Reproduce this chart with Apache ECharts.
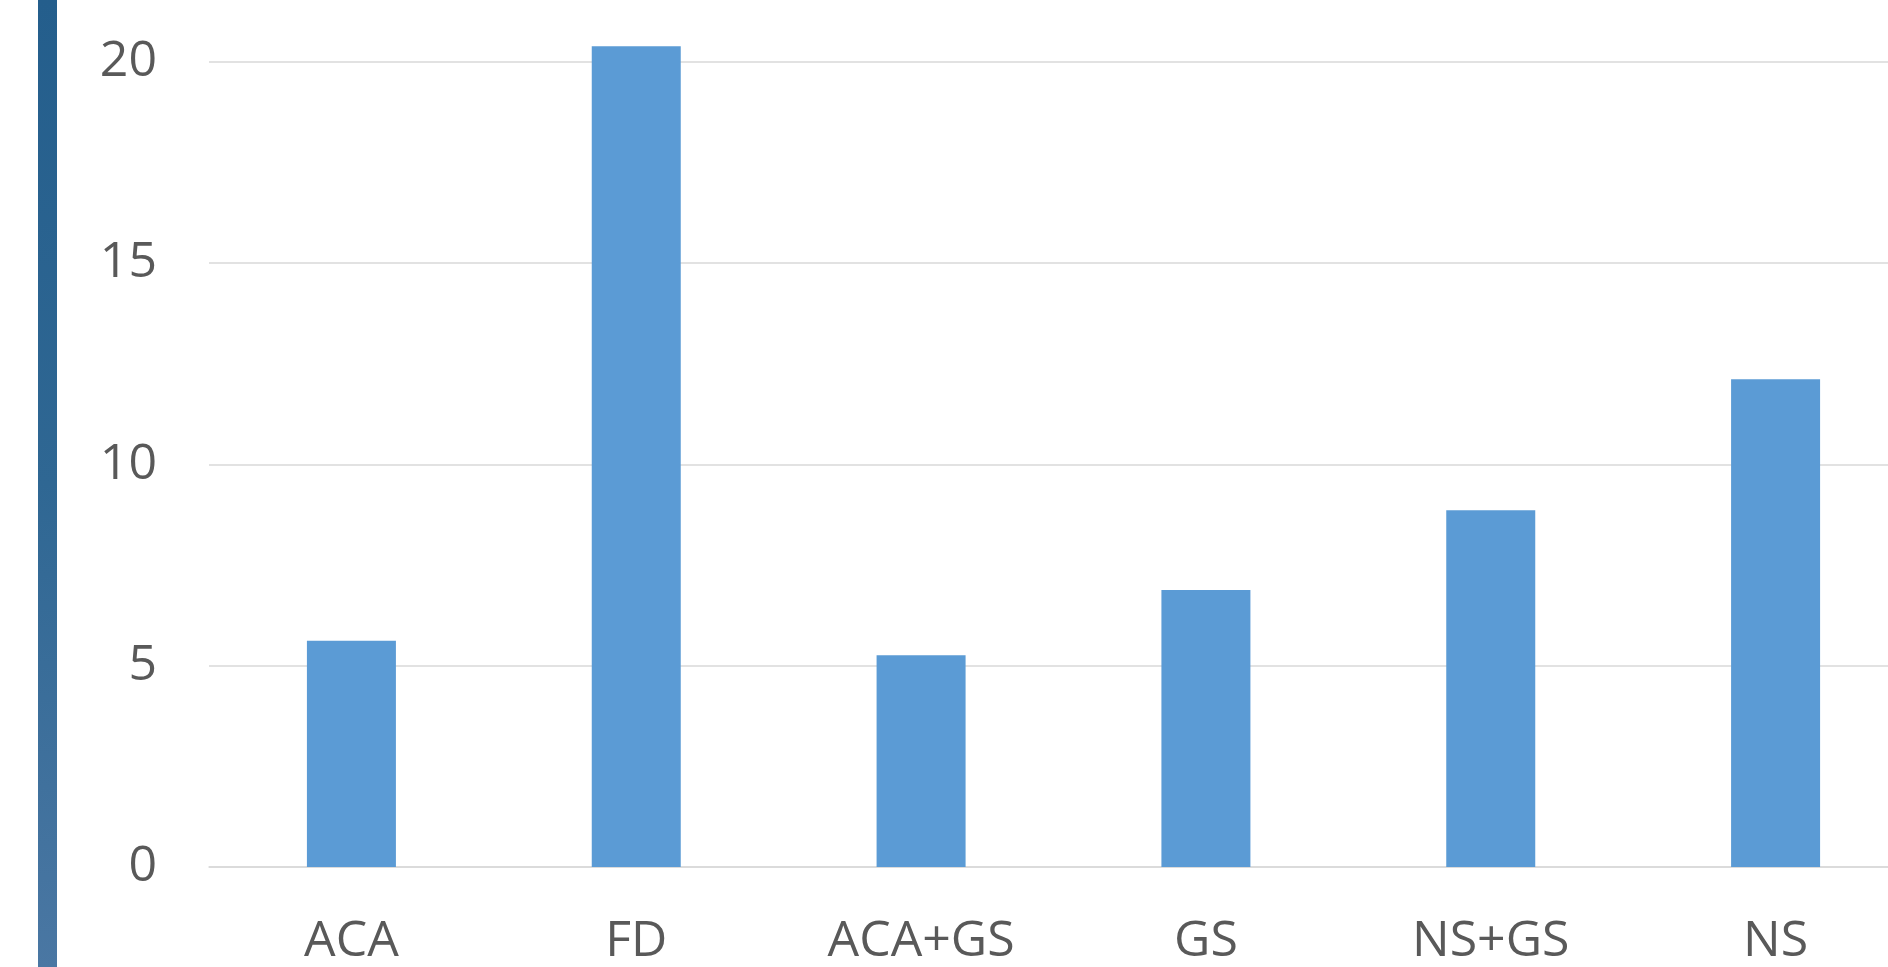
<!DOCTYPE html>
<html>
<head>
<meta charset="utf-8">
<script src="https://cdn.jsdelivr.net/npm/echarts@6/dist/echarts.min.js"></script>
<style>
  html,body{margin:0;padding:0;background:#fff;overflow:hidden;}
  /* the plot runs past the right edge of the picture, so the canvas is wider than the window */
  #chart{width:1918px;height:967px;}
</style>
</head>
<body>
<div id="chart"></div>
<script>
// categories and values
let cats = ['ACA','FD','ACA+GS','GS','NS+GS','NS'];
let vals = [5.62, 20.38, 5.26, 6.88, 8.86, 12.11];
let yMin = 0, yMax = 20, yStep = 5;

let chart = echarts.init(document.getElementById('chart'));
chart.setOption({
  animation:false,
  backgroundColor:'#ffffff',
  textStyle:{fontFamily:'Open Sans'},
  graphic:[{
    type:'rect',
    shape:{x:38,y:0,width:19,height:967},
    style:{
      fill:new echarts.graphic.LinearGradient(0,0,0,1,[
        {offset:0,color:'#245e8c'},
        {offset:0.5,color:'#2f6793'},
        {offset:1,color:'#4a77a3'}
      ])
    },
    z:10
  }],
  grid:{
    left:209,
    right:0,
    top:61.5,
    bottom:97
  },
  xAxis:{
    type:'category',
    data:cats,
    axisLine:{show:true,lineStyle:{color:'#d9d9d9',width:1.5}},
    axisTick:{show:false},
    axisLabel:{
      color:'#595959',
      fontSize:50,
      fontFamily:'Open Sans',
      margin:50
    }
  },
  yAxis:{
    type:'value',
    min:yMin,
    max:yMax,
    interval:yStep,
    axisLine:{show:false},
    axisTick:{show:false},
    splitLine:{lineStyle:{color:'#d9d9d9',width:1.5}},
    axisLabel:{
      color:'#595959',
      fontSize:50,
      fontFamily:'Open Sans',
      margin:52
    }
  },
  series:[{
    type:'bar',
    data:vals,
    barWidth:89,
    clip:false,
    itemStyle:{color:'#5b9bd5'}
  }]
});
</script>
</body>
</html>
